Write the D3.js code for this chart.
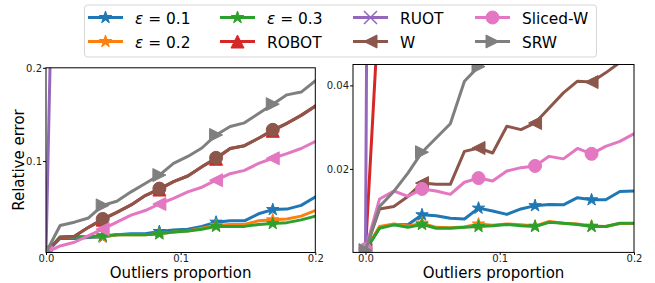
<!DOCTYPE html>
<html>
<head>
<meta charset="utf-8">
<script src="https://cdn.jsdelivr.net/npm/d3@7"></script>
<style>
  body { margin: 0; background: #fff; }
  svg { display: block; }
</style>
</head>
<body>
<script>
// outlier proportions (20 points, markers every 4th)
const outliers = [0, 0.0105, 0.0211, 0.0316, 0.0421, 0.0526, 0.0632, 0.0737, 0.0842, 0.0947,
                  0.1053, 0.1158, 0.1263, 0.1368, 0.1474, 0.1579, 0.1684, 0.1789, 0.1895, 0.2];

const seriesNames = ["eps01", "eps02", "eps03", "ROBOT", "RUOT", "W", "Sliced-W", "SRW"];

// left panel
const leftEps01 = [0.002, 0.017, 0.017, 0.018, 0.0185, 0.021, 0.022, 0.022, 0.0245, 0.026, 0.027, 0.030, 0.0345, 0.036, 0.036, 0.0435, 0.048, 0.0485, 0.0525, 0.0615];
const leftEps02 = [0.002, 0.018, 0.019, 0.019, 0.019, 0.021, 0.021, 0.021, 0.022, 0.024, 0.025, 0.028, 0.031, 0.032, 0.032, 0.036, 0.037, 0.038, 0.041, 0.047];
const leftEps03 = [0.002, 0.019, 0.019, 0.019, 0.020, 0.021, 0.021, 0.021, 0.022, 0.024, 0.025, 0.027, 0.030, 0.030, 0.030, 0.032, 0.033, 0.034, 0.037, 0.041];
const leftRobot = [0.002, 0.018, 0.0195, 0.029, 0.0372, 0.045, 0.053, 0.063, 0.0695, 0.078, 0.084, 0.094, 0.1025, 0.1135, 0.1165, 0.1245, 0.1325, 0.1405, 0.149, 0.159];
const leftRuot = [0.002, 0.7, 0.75, 0.8, 0.82, 0.85, 0.87, 0.9, 0.92, 0.94, 0.95, 0.96, 0.97, 0.98, 0.98, 0.99, 0.99, 1.0, 1.0, 1.0];
const leftW = [0.002, 0.018, 0.0195, 0.029, 0.038, 0.045, 0.053, 0.063, 0.0705, 0.078, 0.084, 0.094, 0.1035, 0.1135, 0.1165, 0.1245, 0.1335, 0.1405, 0.149, 0.159];
const leftSliced = [0.002, 0.009, 0.013, 0.02, 0.027, 0.0345, 0.042, 0.047, 0.054, 0.06, 0.067, 0.072, 0.0795, 0.0865, 0.09, 0.0975, 0.103, 0.108, 0.1135, 0.121];
const leftSrw = [0.002, 0.031, 0.0345, 0.039, 0.0525, 0.057, 0.067, 0.076, 0.085, 0.0975, 0.105, 0.114, 0.128, 0.137, 0.141, 0.151, 0.161, 0.171, 0.174, 0.186];

// right panel
const rightEps01 = [0.0005, 0.006, 0.0067, 0.0066, 0.009, 0.0088, 0.0082, 0.008, 0.0106, 0.0099, 0.0091, 0.0104, 0.0112, 0.0115, 0.0114, 0.0131, 0.0126, 0.0126, 0.0146, 0.0147];
const rightEps02 = [0.0005, 0.0062, 0.0068, 0.0063, 0.007, 0.006, 0.0059, 0.0061, 0.0068, 0.0065, 0.0068, 0.0066, 0.0063, 0.0074, 0.007, 0.0068, 0.0063, 0.0062, 0.0069, 0.0069];
const rightEps03 = [0.0005, 0.0058, 0.0066, 0.006, 0.0067, 0.0058, 0.0058, 0.006, 0.0062, 0.0064, 0.0067, 0.0064, 0.0062, 0.0072, 0.007, 0.0067, 0.0062, 0.0062, 0.007, 0.007];
const rightRobot = [0.0005, 0.062, 0.08, 0.1, 0.11, 0.12, 0.13, 0.14, 0.15, 0.16, 0.17, 0.18, 0.19, 0.2, 0.21, 0.22, 0.23, 0.24, 0.25, 0.26];
const rightRuot = [0.0005, 0.6, 0.65, 0.7, 0.75, 0.8, 0.82, 0.85, 0.87, 0.9, 0.92, 0.94, 0.95, 0.96, 0.97, 0.98, 0.98, 0.99, 0.99, 1.0];
const rightW = [0.0006, 0.0104, 0.011, 0.0134, 0.0166, 0.0163, 0.0163, 0.0242, 0.025, 0.0238, 0.0302, 0.0294, 0.031, 0.0346, 0.0382, 0.041, 0.0408, 0.043, 0.0455, 0.047];
const rightSliced = [0.0008, 0.0128, 0.0147, 0.0134, 0.0152, 0.0147, 0.0139, 0.0168, 0.0178, 0.0171, 0.0195, 0.0203, 0.0207, 0.023, 0.0224, 0.0249, 0.0236, 0.0254, 0.0266, 0.0284];
const rightSrw = [0.0005, 0.011, 0.0146, 0.019, 0.0240, 0.0274, 0.0308, 0.041, 0.0445, 0.049, 0.053, 0.057, 0.061, 0.065, 0.069, 0.073, 0.077, 0.081, 0.085, 0.089];

const leftXTicks = [0, 0.1, 0.2];
const leftYTicks = [0.1, 0.2];
const rightXTicks = [0, 0.1, 0.2];
const rightYTicks = [0.02, 0.04];

const colors = {
    "eps01": "#1f77b4", "eps02": "#ff7f0e", "eps03": "#2ca02c", "ROBOT": "#d62728",
    "RUOT": "#9467bd", "W": "#8c564b", "Sliced-W": "#e377c2", "SRW": "#7f7f7f"
};

const FONT = "DejaVu Sans";
const MS = 13;  // marker size

// marker paths (matplotlib style, size = ms)
function markerPath(kind, ms) {
    const r = ms / 2;
    if (kind === "circle") {
        return d3.symbol().type(d3.symbolCircle).size(Math.PI * r * r)();
    }
    if (kind === "star") {
        const pts = [];
        for (let k = 0; k < 10; k++) {
            const rr = k % 2 === 0 ? r : r * 0.381966;
            const a = -Math.PI / 2 + k * Math.PI / 5;
            pts.push([rr * Math.cos(a), rr * Math.sin(a)]);
        }
        return "M" + pts.map(p => p.join(",")).join("L") + "Z";
    }
    if (kind === "up") return `M0,${-r}L${r},${r}L${-r},${r}Z`;
    if (kind === "left") return `M${-r},0L${r},${-r}L${r},${r}Z`;
    if (kind === "right") return `M${r},0L${-r},${r}L${-r},${-r}Z`;
    if (kind === "x") return `M${-r},${-r}L${r},${r}M${-r},${r}L${r},${-r}`;
    return "";
}

const svg = d3.select("body")
    .append("svg")
    .attr("width", 655)
    .attr("height", 283);

function drawPanel(opts) {
    const x = d3.scaleLinear().domain(opts.xDomain).range([opts.left, opts.right]);
    const y = d3.scaleLinear().domain(opts.yDomain).range([opts.bottom, opts.top]);

    const clipId = "clip_" + opts.id;
    svg.append("clipPath").attr("id", clipId)
        .append("rect")
        .attr("x", opts.left).attr("y", opts.top)
        .attr("width", opts.right - opts.left)
        .attr("height", opts.bottom - opts.top);

    const g = svg.append("g").attr("clip-path", `url(#${clipId})`);

    const line = d3.line()
        .x((d, i) => x(outliers[i]))
        .y(d => y(d));

    seriesNames.forEach(function (name) {
        const values = opts.series[name];
        const col = colors[name];
        g.append("path")
            .attr("d", line(values))
            .attr("fill", "none")
            .attr("stroke", col)
            .attr("stroke-width", 3)
            .attr("stroke-linejoin", "round")
            .attr("stroke-linecap", "square");

        const kind = opts.markers[name];
        const idx = values.map((v, i) => i).filter(i => i % 4 === 0);
        g.selectAll(null)
            .data(idx)
            .enter()
            .append("path")
            .attr("transform", i => `translate(${x(outliers[i])},${y(values[i])})`)
            .attr("d", markerPath(kind, MS))
            .attr("fill", kind === "x" ? "none" : col)
            .attr("stroke", col)
            .attr("stroke-width", kind === "x" ? 1.5 : 1);
    });

    // frame
    svg.append("rect")
        .attr("x", opts.left).attr("y", opts.top)
        .attr("width", opts.right - opts.left)
        .attr("height", opts.bottom - opts.top)
        .attr("fill", "none")
        .attr("stroke", "#000")
        .attr("stroke-width", 1);

    const xAxis = svg.append("g")
        .attr("transform", `translate(0,${opts.bottom})`)
        .call(d3.axisBottom(x).tickValues(opts.xTicks).tickFormat(d3.format(".1f"))
            .tickSize(2.5).tickPadding(0));
    const yAxis = svg.append("g")
        .attr("transform", `translate(${opts.left},0)`)
        .call(d3.axisLeft(y).tickValues(opts.yTicks).tickFormat(d3.format(opts.yFormat))
            .tickSize(3).tickPadding(1));

    [xAxis, yAxis].forEach(function (a) {
        a.select(".domain").remove();
        a.selectAll("text").attr("font-family", FONT).attr("font-size", "10px").attr("fill", "#222");
        a.selectAll("line").attr("stroke", "#000");
    });

    svg.append("text")
        .attr("x", (opts.left + opts.right) / 2)
        .attr("y", 277.5)
        .attr("text-anchor", "middle")
        .attr("font-family", FONT)
        .attr("font-size", "15px")
        .text("Outliers proportion");
}

drawPanel({
    id: "left",
    left: 46, right: 315.3, top: 67.8, bottom: 252.5,
    xDomain: [0, 0.2], yDomain: [0.002, 0.2],
    xTicks: leftXTicks, yTicks: leftYTicks, yFormat: ".1f",
    series: {
        "eps01": leftEps01, "eps02": leftEps02, "eps03": leftEps03, "ROBOT": leftRobot,
        "RUOT": leftRuot, "W": leftW, "Sliced-W": leftSliced, "SRW": leftSrw
    },
    markers: {
        "eps01": "star", "eps02": "star", "eps03": "star", "ROBOT": "up",
        "RUOT": "x", "W": "circle", "Sliced-W": "left", "SRW": "right"
    }
});

drawPanel({
    id: "right",
    left: 353, right: 634, top: 64.5, bottom: 252.4,
    xDomain: [-0.0093, 0.2], yDomain: [0, 0.045],
    xTicks: rightXTicks, yTicks: rightYTicks, yFormat: ".2f",
    series: {
        "eps01": rightEps01, "eps02": rightEps02, "eps03": rightEps03, "ROBOT": rightRobot,
        "RUOT": rightRuot, "W": rightW, "Sliced-W": rightSliced, "SRW": rightSrw
    },
    markers: {
        "eps01": "star", "eps02": "star", "eps03": "star", "ROBOT": "up",
        "RUOT": "x", "W": "left", "Sliced-W": "circle", "SRW": "right"
    }
});

// y label
svg.append("text")
    .attr("transform", "translate(24,160) rotate(-90)")
    .attr("text-anchor", "middle")
    .attr("font-family", FONT)
    .attr("font-size", "15px")
    .text("Relative error");

// legend
const legendItems = [
    {name: "eps01", label: "0.1", marker: "star", col: 0, row: 0},
    {name: "eps02", label: "0.2", marker: "star", col: 0, row: 1},
    {name: "eps03", label: "0.3", marker: "star", col: 1, row: 0},
    {name: "ROBOT", label: "ROBOT", marker: "up", col: 1, row: 1},
    {name: "RUOT", label: "RUOT", marker: "x", col: 2, row: 0},
    {name: "W", label: "W", marker: "left", col: 2, row: 1},
    {name: "Sliced-W", label: "Sliced-W", marker: "circle", col: 3, row: 0},
    {name: "SRW", label: "SRW", marker: "right", col: 3, row: 1}
];
const colX = [88, 220, 353, 475];
const rowY = [17.5, 41.5];

svg.append("rect")
    .attr("x", 84.5).attr("y", 5)
    .attr("width", 512).attr("height", 52)
    .attr("rx", 3)
    .attr("fill", "#fff")
    .attr("fill-opacity", 0.8)
    .attr("stroke", "#d6d6d6")
    .attr("stroke-width", 1);

const li = svg.selectAll(".leg")
    .data(legendItems)
    .enter()
    .append("g")
    .attr("transform", d => `translate(${colX[d.col]},${rowY[d.row]})`);

li.append("line")
    .attr("x1", 0).attr("x2", 35)
    .attr("stroke", d => colors[d.name])
    .attr("stroke-width", 3);

li.append("path")
    .attr("transform", "translate(17.5,0)")
    .attr("d", d => markerPath(d.marker, MS))
    .attr("fill", d => d.marker === "x" ? "none" : colors[d.name])
    .attr("stroke", d => colors[d.name])
    .attr("stroke-width", d => d.marker === "x" ? 1.5 : 1);

const lt = li.append("text")
    .attr("x", 47)
    .attr("y", 6.2)
    .attr("font-family", FONT)
    .attr("font-size", "15.4px");

lt.each(function (d) {
    const t = d3.select(this);
    if (d.name.startsWith("eps")) {
        t.append("tspan").attr("font-style", "italic").text("ε");
        t.append("tspan").text(" = " + d.label);
    } else {
        t.text(d.label);
    }
});
</script>
</body>
</html>
